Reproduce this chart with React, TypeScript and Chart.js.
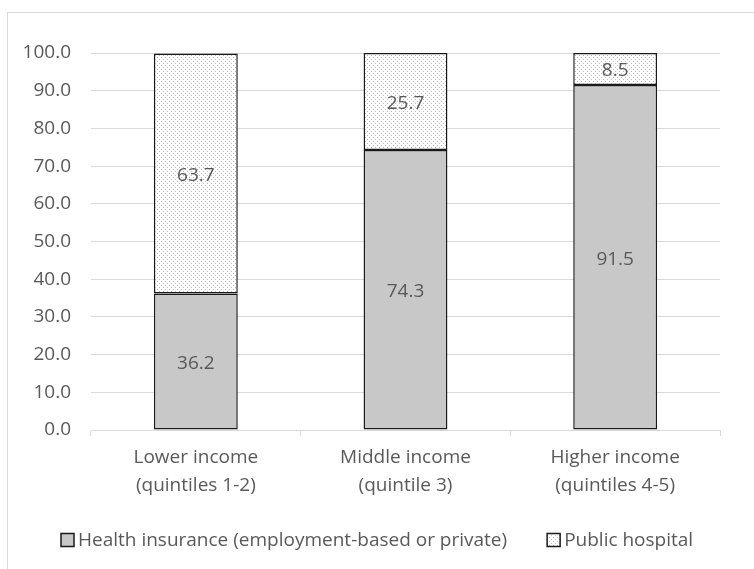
import React, { useEffect, useRef } from "react";
import { Chart, registerables } from "chart.js";

Chart.register(...registerables);

const categories: string[][] = [
  ["Lower income", "(quintiles 1-2)"],
  ["Middle income", "(quintile 3)"],
  ["Higher income", "(quintiles 4-5)"],
];
const insuranceValues = [36.2, 74.3, 91.5];
const publicHospitalValues = [63.7, 25.7, 8.5];
const seriesNames = ["Health insurance (employment-based or private)", "Public hospital"];

const FONT = "'Open Sans', sans-serif";
const TEXT = "#595959";
const FONT_SIZE = 19;

function makePattern(): CanvasPattern | string {
  const c = document.createElement("canvas");
  c.width = 4;
  c.height = 4;
  const x = c.getContext("2d");
  if (!x) return "#eee";
  x.fillStyle = "#ffffff";
  x.fillRect(0, 0, 4, 4);
  x.fillStyle = "#b8b8b8";
  x.fillRect(1, 1, 1, 1);
  x.fillRect(3, 3, 1, 1);
  const p = x.createPattern(c, "repeat");
  return p || "#eee";
}

const frame = {
  id: "frame",
  beforeDraw(chart: any) {
    const ctx = chart.ctx;
    ctx.save();
    ctx.strokeStyle = "#d9d9d9";
    ctx.lineWidth = 1;
    ctx.strokeRect(7.5, 12.5, 760, 600);
    ctx.restore();
  },
};

const valueLabels = {
  id: "valueLabels",
  afterDatasetsDraw(chart: any) {
    const ctx = chart.ctx;
    ctx.save();
    ctx.fillStyle = TEXT;
    ctx.font = `${FONT_SIZE}px ${FONT}`;
    ctx.textAlign = "center";
    ctx.textBaseline = "middle";
    chart.data.datasets.forEach((ds: any, di: number) => {
      const meta = chart.getDatasetMeta(di);
      meta.data.forEach((el: any, i: number) => {
        const v = ds.data[i];
        const yc = (el.y + el.base) / 2;
        ctx.fillText(v.toFixed(1), el.x, yc + 2);
      });
    });
    ctx.restore();
  },
};

const customLegend = {
  id: "customLegend",
  afterDraw(chart: any) {
    const ctx = chart.ctx;
    ctx.save();
    ctx.font = `${FONT_SIZE}px ${FONT}`;
    const box = 13;
    const gapBoxText = 4;
    const gapItems = 40;
    const ds = chart.data.datasets;
    const widths = ds.map((d: any) => ctx.measureText(d.label).width);
    let total = 0;
    widths.forEach((w: number, i: number) => {
      total += box + gapBoxText + w + (i < widths.length - 1 ? gapItems : 0);
    });
    let x = Math.round(chart.width / 2 - total / 2);
    const yc = 540;
    ds.forEach((d: any, i: number) => {
      ctx.fillStyle = d.backgroundColor;
      ctx.fillRect(x, yc - box / 2, box, box);
      ctx.strokeStyle = "#1a1a1a";
      ctx.lineWidth = 1.5;
      ctx.strokeRect(x, yc - box / 2, box, box);
      ctx.fillStyle = TEXT;
      ctx.textAlign = "left";
      ctx.textBaseline = "middle";
      ctx.fillText(d.label, x + box + gapBoxText, yc + 1);
      x += box + gapBoxText + widths[i] + gapItems;
    });
    ctx.restore();
  },
};

export default function App() {
  const ref = useRef<HTMLCanvasElement>(null);
  useEffect(() => {
    if (!ref.current) return;
    const pattern = makePattern();
    const chart = new Chart(ref.current, {
      type: "bar",
      data: {
        labels: categories,
        datasets: [
          {
            label: seriesNames[0],
            data: insuranceValues,
            backgroundColor: "#c8c8c8",
            borderColor: "#1a1a1a",
            borderWidth: 1.5,
            borderSkipped: false,
            barPercentage: 0.4,
            categoryPercentage: 1,
          },
          {
            label: seriesNames[1],
            data: publicHospitalValues,
            backgroundColor: pattern as any,
            borderColor: "#1a1a1a",
            borderWidth: 1.5,
            borderSkipped: false,
            barPercentage: 0.4,
            categoryPercentage: 1,
          },
        ],
      },
      options: {
        animation: false,
        responsive: false,
        maintainAspectRatio: false,
        layout: { padding: { top: 53, right: 34, bottom: 49, left: 0 } },
        plugins: {
          legend: { display: false },
          tooltip: { enabled: false },
        },
        scales: {
          x: {
            stacked: true,
            afterFit: (s: any) => {
              s.height = 90;
            },
            grid: {
              offset: true,
              drawOnChartArea: false,
              drawTicks: true,
              tickLength: 6,
              color: "#d9d9d9",
            },
            border: { color: "#d9d9d9" },
            ticks: {
              color: TEXT,
              font: { family: FONT, size: FONT_SIZE, lineHeight: 1.47 },
              padding: 8,
            },
          },
          y: {
            stacked: true,
            min: 0,
            max: 100,
            afterFit: (s: any) => {
              s.width = 91;
            },
            grid: { color: "#d9d9d9", drawTicks: false },
            border: { display: false },
            ticks: {
              stepSize: 10,
              color: TEXT,
              padding: 20,
              font: { family: FONT, size: FONT_SIZE },
              callback: (v: any) => Number(v).toFixed(1),
            },
          },
        },
      },
      plugins: [frame, valueLabels, customLegend],
    });
    return () => chart.destroy();
  }, []);
  return (
    <div style={{ position: "fixed", left: 0, top: 0, width: 754, height: 569, background: "#fff" }}>
      <canvas ref={ref} width={754} height={569} style={{ width: 754, height: 569, display: "block" }} />
    </div>
  );
}
